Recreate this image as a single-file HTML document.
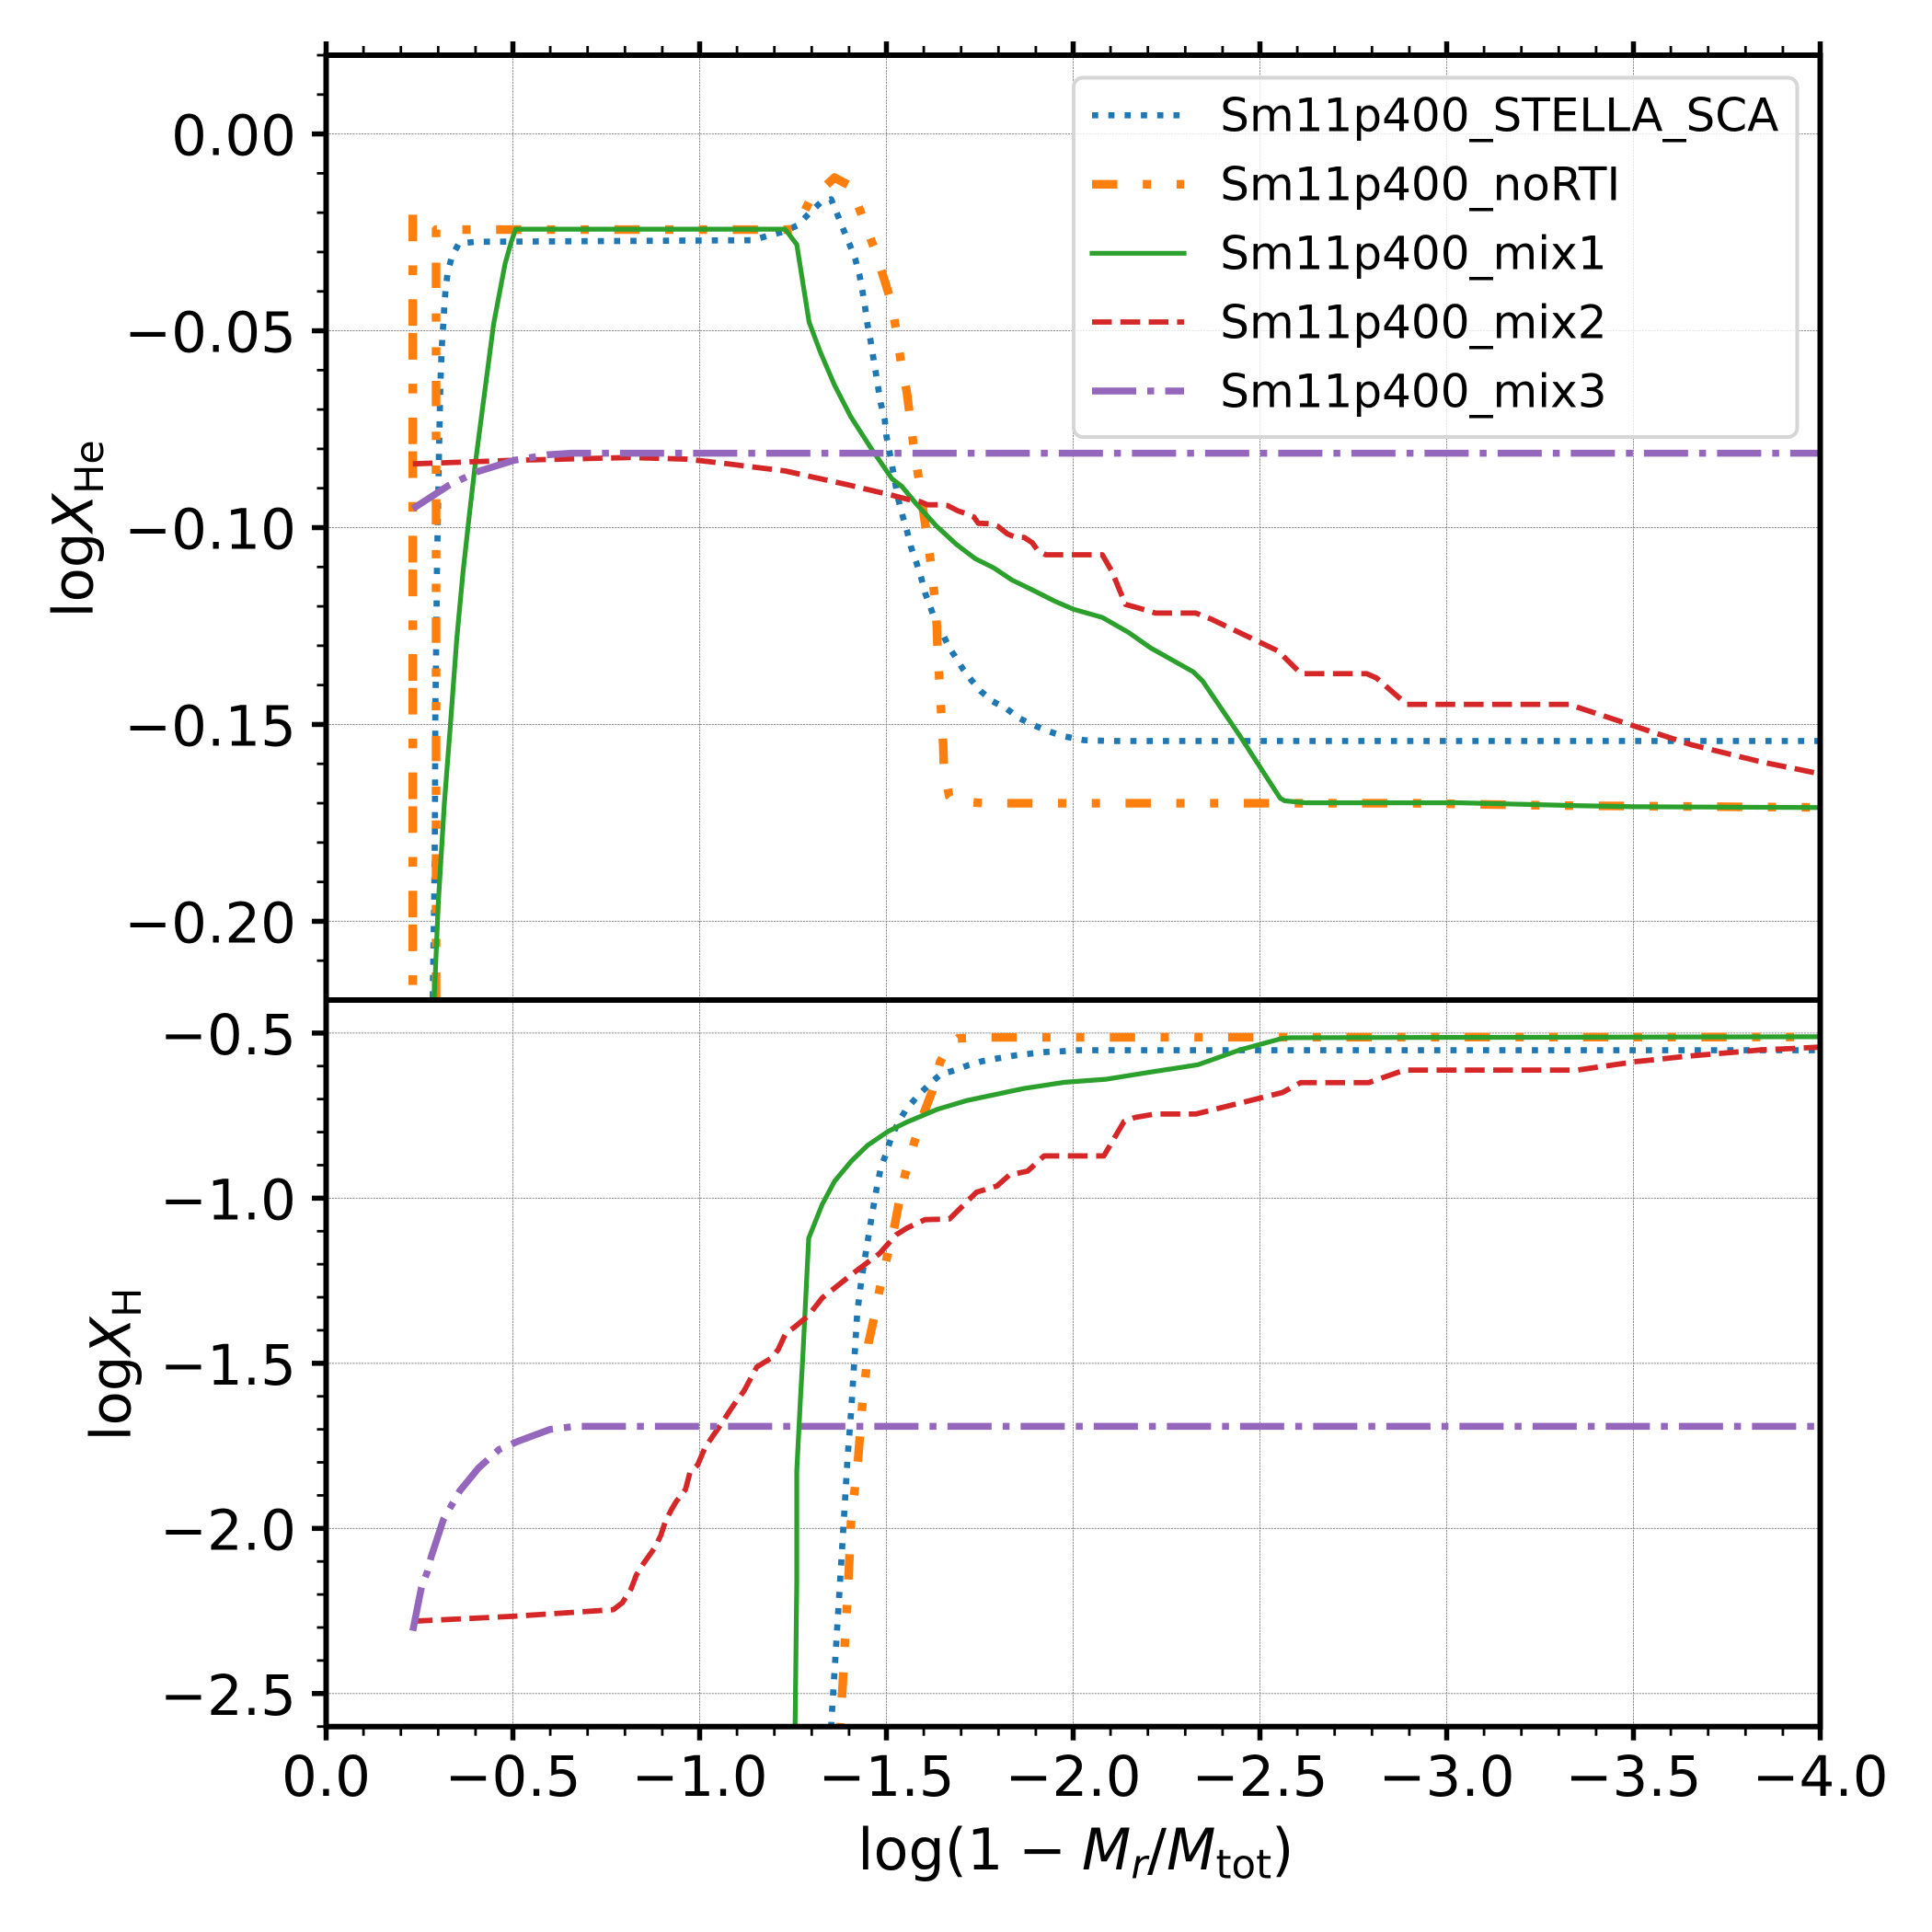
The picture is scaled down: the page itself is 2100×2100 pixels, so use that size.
<!DOCTYPE html>
<html lang="en">
<head>
<meta charset="utf-8">
<title>Helium and hydrogen abundance profiles</title>
<style>
  html, body { margin: 0; padding: 0; background: #fff; }
  svg { display: block; }
  text { font-family: "DejaVu Sans", "Liberation Sans", sans-serif; fill: #000; }
</style>
</head>
<body>
<svg id="chart" xmlns="http://www.w3.org/2000/svg" width="2100" height="2100" viewBox="0 0 2100 2100">
  <rect x="0" y="0" width="2100" height="2100" fill="#ffffff"/>
  <defs>
    <clipPath id="clip-upper"><rect x="354.5" y="60" width="1624" height="1027"/></clipPath>
    <clipPath id="clip-lower"><rect x="354.5" y="1087" width="1624" height="789.7"/></clipPath>
  </defs>
  <g id="grid"></g>
  <g id="lines-upper" clip-path="url(#clip-upper)"></g>
  <g id="lines-lower" clip-path="url(#clip-lower)"></g>
  <g id="ticks"></g>
  <g id="spines"></g>
  <g id="tick-labels"></g>

  <text transform="translate(100.5 671.5) rotate(-90)" font-size="61">log<tspan font-style="italic">X</tspan><tspan font-size="42.7" dy="11.5">He</tspan></text>
  <text transform="translate(141.5 1566.5) rotate(-90)" font-size="61">log<tspan font-style="italic">X</tspan><tspan font-size="42.7" dy="11.5">H</tspan></text>
  <text x="932.3" y="2032" font-size="62" word-spacing="-3">log(1 − <tspan font-style="italic">M</tspan><tspan font-style="italic" font-size="43.4" dy="9.5">r</tspan><tspan dy="-9.5">/</tspan><tspan font-style="italic">M</tspan><tspan font-size="43.4" dy="9.5">tot</tspan><tspan dy="-9.5">)</tspan></text>

  <g id="legend">
    <rect x="1167" y="84.5" width="786.5" height="390.5" rx="10" ry="10" fill="#ffffff" fill-opacity="0.8" stroke="#d6d6d6" stroke-width="4"/>
    <line x1="1187" x2="1287" y1="125.3" y2="125.3" stroke="#1f77b4" stroke-width="6.7" stroke-dasharray="6.7 11"/>
    <text x="1326.3" y="142.7" font-size="50">Sm11p400_STELLA_SCA</text>
    <line x1="1187" x2="1287" y1="200.3" y2="200.3" stroke="#ff7f0e" stroke-width="9.4" stroke-dasharray="27.5 27.7 9 27.7 9 27.7"/>
    <text x="1326.3" y="217.7" font-size="50">Sm11p400_noRTI</text>
    <line x1="1187" x2="1287" y1="275.3" y2="275.3" stroke="#2ca02c" stroke-width="5.2" stroke-linecap="square"/>
    <text x="1326.3" y="292.7" font-size="50">Sm11p400_mix1</text>
    <line x1="1187" x2="1287" y1="350" y2="350" stroke="#d62728" stroke-width="5.8" stroke-dasharray="21.5 9.3"/>
    <text x="1326.3" y="367.7" font-size="50">Sm11p400_mix2</text>
    <line x1="1187" x2="1287" y1="425" y2="425" stroke="#9467bd" stroke-width="7.5" stroke-dasharray="48 12 7.5 12"/>
    <text x="1326.3" y="442.7" font-size="50">Sm11p400_mix3</text>
  </g>
</svg>

<script>
// ---- tick values and labels ----
const xMajorTicks = [0, -0.5, -1, -1.5, -2, -2.5, -3, -3.5, -4];
const xTickLabels = ["0.0", "−0.5", "−1.0", "−1.5", "−2.0", "−2.5", "−3.0", "−3.5", "−4.0"];
const upperMajorTicks = [0, -0.05, -0.10, -0.15, -0.20];
const upperTickLabels = ["0.00", "−0.05", "−0.10", "−0.15", "−0.20"];
const lowerMajorTicks = [-0.5, -1, -1.5, -2, -2.5];
const lowerTickLabels = ["−0.5", "−1.0", "−1.5", "−2.0", "−2.5"];

// ---- Sm11p400_STELLA_SCA ----
const stellaUpperX = [-0.284,-0.2858,-0.2891,-0.2913,-0.2924,-0.2946,-0.2968,-0.3,-0.3022,-0.3057,-0.3089,-0.3111,-0.3143,-0.3165,-0.32,-0.3254,-0.3364,-0.3552,-0.4025,-1.141,-1.185,-1.226,-1.262,-1.293,-1.325,-1.352,-1.369,-1.385,-1.402,-1.417,-1.428,-1.436,-1.443,-1.449,-1.457,-1.464,-1.471,-1.478,-1.485,-1.4955,-1.4995,-1.508,-1.516,-1.524,-1.532,-1.543,-1.555,-1.565,-1.58,-1.593,-1.604,-1.619,-1.633,-1.653,-1.667,-1.687,-1.706,-1.728,-1.752,-1.784,-1.822,-1.855,-1.892,-1.933,-1.974,-2.03,-2.1,-4.05];
const stellaUpperY = [-0.24,-0.2167,-0.1962,-0.1755,-0.1466,-0.1301,-0.1094,-0.0929,-0.0805,-0.064,-0.0558,-0.0516,-0.0475,-0.0435,-0.0393,-0.0352,-0.0312,-0.0278,-0.0274,-0.027,-0.0258,-0.0248,-0.0232,-0.0202,-0.0173,-0.0166,-0.0205,-0.0243,-0.0282,-0.0319,-0.0359,-0.04,-0.0441,-0.0482,-0.0522,-0.0563,-0.0603,-0.0645,-0.0685,-0.0726,-0.0765,-0.0806,-0.0847,-0.0889,-0.0929,-0.0969,-0.1008,-0.1047,-0.1088,-0.1127,-0.1167,-0.1205,-0.1244,-0.1275,-0.1303,-0.1332,-0.1361,-0.1388,-0.1415,-0.1441,-0.146,-0.1484,-0.1501,-0.1517,-0.153,-0.154,-0.1542,-0.1542];
const stellaLowerX = [-1.34,-1.353,-1.383,-1.396,-1.406,-1.414,-1.422,-1.433,-1.447,-1.461,-1.476,-1.485,-1.5,-1.513,-1.532,-1.554,-1.582,-1.613,-1.644,-1.682,-1.72,-1.757,-1.801,-1.843,-1.887,-1.93,-1.973,-2.016,-4.05];
const stellaLowerY = [-2.9,-2.58,-2.03,-1.786,-1.639,-1.492,-1.345,-1.248,-1.15,-1.053,-0.9565,-0.909,-0.862,-0.816,-0.77,-0.729,-0.693,-0.657,-0.626,-0.613,-0.597,-0.585,-0.576,-0.568,-0.562,-0.557,-0.555,-0.552,-0.552];

// ---- Sm11p400_noRTI ----
const noRtiUpperX = [-0.232,-0.232,-0.232,-0.2943,-0.2943,-1.229,-1.257,-1.295,-1.361,-1.405,-1.436,-1.468,-1.493,-1.512,-1.526,-1.539,-1.555,-1.563,-1.573,-1.587,-1.598,-1.608,-1.619,-1.629,-1.635,-1.637,-1.642,-1.647,-1.652,-1.654,-1.668,-1.679,-1.762,-2.9,-3.3,-4.05];
const noRtiUpperY = [-0.2373,-0.0196,-0.2331,-0.2331,-0.0243,-0.0243,-0.0242,-0.0169,-0.0111,-0.0133,-0.0211,-0.0292,-0.0366,-0.0424,-0.0497,-0.058,-0.0658,-0.0719,-0.0794,-0.0878,-0.0954,-0.1016,-0.1091,-0.1176,-0.125,-0.1314,-0.139,-0.1476,-0.155,-0.1614,-0.1682,-0.1694,-0.17,-0.17,-0.1706,-0.1711];
const noRtiLowerX = [-1.362,-1.377,-1.383,-1.389,-1.394,-1.4,-1.405,-1.424,-1.429,-1.435,-1.445,-1.452,-1.466,-1.482,-1.502,-1.521,-1.533,-1.55,-1.575,-1.601,-1.623,-1.644,-1.669,-1.691,-1.757,-4.05];
const noRtiLowerY = [-2.87,-2.586,-2.471,-2.341,-2.241,-2.114,-1.984,-1.793,-1.719,-1.631,-1.527,-1.438,-1.367,-1.276,-1.176,-1.088,-1.017,-0.928,-0.829,-0.74,-0.675,-0.587,-0.536,-0.516,-0.513,-0.512];

// ---- Sm11p400_mix1 ----
const mix1UpperX = [-0.288,-0.2891,-0.3,-0.3165,-0.333,-0.3495,-0.366,-0.3825,-0.399,-0.41,-0.432,-0.4485,-0.479,-0.495,-0.507,-1.229,-1.26,-1.293,-1.323,-1.361,-1.405,-1.46,-1.515,-1.541,-1.582,-1.635,-1.688,-1.738,-1.787,-1.836,-1.886,-1.951,-2.0,-2.078,-2.148,-2.208,-2.321,-2.346,-2.447,-2.554,-2.566,-2.623,-3.038,-3.339,-3.502,-3.993,-4.05];
const mix1UpperY = [-0.24,-0.2205,-0.1957,-0.17,-0.1497,-0.1285,-0.1117,-0.0975,-0.084,-0.076,-0.0601,-0.0482,-0.033,-0.0276,-0.0242,-0.0242,-0.0281,-0.0478,-0.0554,-0.0638,-0.0719,-0.08,-0.0876,-0.0895,-0.0942,-0.0997,-0.1043,-0.1079,-0.1102,-0.1133,-0.1156,-0.1187,-0.1207,-0.1228,-0.1266,-0.1306,-0.1366,-0.1389,-0.153,-0.1687,-0.1694,-0.1699,-0.1699,-0.1706,-0.1709,-0.1711,-0.1711];
const mix1LowerX = [-1.254,-1.256,-1.26,-1.26,-1.27,-1.276,-1.283,-1.292,-1.328,-1.361,-1.405,-1.449,-1.504,-1.554,-1.636,-1.713,-1.867,-1.977,-2.087,-2.197,-2.334,-2.449,-2.56,-2.582,-4.05];
const mix1LowerY = [-2.7,-2.55,-2.16,-1.826,-1.603,-1.483,-1.325,-1.121,-1.019,-0.949,-0.889,-0.8405,-0.798,-0.77,-0.731,-0.705,-0.668,-0.649,-0.64,-0.62,-0.596,-0.55,-0.516,-0.514,-0.511];

// ---- Sm11p400_mix2 ----
const mix2UpperX = [-0.232,-0.5035,-0.811,-0.965,-1.075,-1.229,-1.405,-1.52,-1.565,-1.59,-1.61,-1.639,-1.664,-1.693,-1.709,-1.734,-1.746,-1.775,-1.799,-1.824,-1.844,-1.869,-1.89,-1.906,-1.927,-2.078,-2.103,-2.14,-2.193,-2.22,-2.328,-2.371,-2.548,-2.61,-2.786,-2.812,-2.893,-3.327,-3.502,-3.653,-3.842,-3.993,-4.05];
const mix2UpperY = [-0.0838,-0.0829,-0.0822,-0.0826,-0.0838,-0.0856,-0.0893,-0.0919,-0.093,-0.0934,-0.0942,-0.0942,-0.0944,-0.0958,-0.0963,-0.0973,-0.0989,-0.099,-0.0997,-0.1016,-0.1024,-0.1025,-0.1038,-0.1059,-0.1069,-0.1069,-0.111,-0.1195,-0.1209,-0.1217,-0.1217,-0.1233,-0.1313,-0.1371,-0.1371,-0.1382,-0.1449,-0.1449,-0.1504,-0.1551,-0.1595,-0.1624,-0.1634];
const mix2LowerX = [-0.232,-0.502,-0.769,-0.793,-0.816,-0.8305,-0.851,-0.88,-0.896,-0.908,-0.925,-0.937,-0.962,-0.974,-0.995,-1.014,-1.036,-1.056,-1.077,-1.099,-1.118,-1.138,-1.153,-1.192,-1.21,-1.23,-1.252,-1.29,-1.328,-1.416,-1.482,-1.526,-1.554,-1.603,-1.669,-1.741,-1.796,-1.829,-1.878,-1.922,-2.082,-2.136,-2.164,-2.219,-2.329,-2.56,-2.609,-2.791,-2.887,-3.351,-3.502,-3.641,-3.842,-3.993,-4.05];
const mix2LowerY = [-2.281,-2.266,-2.246,-2.225,-2.184,-2.141,-2.104,-2.058,-2.021,-1.979,-1.942,-1.919,-1.882,-1.831,-1.807,-1.756,-1.719,-1.687,-1.65,-1.613,-1.585,-1.543,-1.511,-1.484,-1.459,-1.41,-1.392,-1.357,-1.302,-1.223,-1.167,-1.111,-1.091,-1.065,-1.063,-0.982,-0.963,-0.93,-0.918,-0.872,-0.872,-0.768,-0.756,-0.745,-0.745,-0.68,-0.65,-0.65,-0.612,-0.612,-0.587,-0.5705,-0.551,-0.543,-0.541];

// ---- Sm11p400_mix3 ----
const mix3UpperX = [-0.232,-0.3276,-0.4045,-0.5035,-0.591,-0.657,-4.05];
const mix3UpperY = [-0.0952,-0.0893,-0.0858,-0.0829,-0.0815,-0.0811,-0.0811];
const mix3LowerX = [-0.232,-0.255,-0.27,-0.2815,-0.314,-0.358,-0.408,-0.463,-0.512,-0.6,-0.666,-4.05];
const mix3LowerY = [-2.31,-2.179,-2.134,-2.085,-1.973,-1.886,-1.817,-1.761,-1.737,-1.7,-1.691,-1.691];

// ---- axis functions ----
const NS = "http://www.w3.org/2000/svg";
function xPos(v) { return 354.5 + (0 - v) * (1978.5 - 354.5) / 4; }
function yUpper(v) { return 60 + (0.02 - v) * (1087 - 60) / 0.24; }
function yLower(v) { return 1087 + (-0.4 - v) * (1876.7 - 1087) / 2.2; }

function svgEl(tag, parentId) {
  const el = document.createElementNS(NS, tag);
  document.getElementById(parentId).appendChild(el);
  return el;
}
function setLine(el, x1, y1, x2, y2, color, width) {
  el.setAttribute("x1", x1);
  el.setAttribute("y1", y1);
  el.setAttribute("x2", x2);
  el.setAttribute("y2", y2);
  el.setAttribute("stroke", color);
  el.setAttribute("stroke-width", width);
}

// ---- grid ----
xMajorTicks.forEach(function (v) {
  [[60, 1087], [1087, 1876.7]].forEach(function (span) {
    const g = svgEl("line", "grid");
    
    
    setLine(g, xPos(v), span[0], xPos(v), span[1], "#8c8c8c", 1);
    g.setAttribute("stroke-dasharray", "2.2 1");
  });
});
upperMajorTicks.forEach(function (v) {
  const g = svgEl("line", "grid");
  
  
  setLine(g, 354.5, yUpper(v), 1978.5, yUpper(v), "#8c8c8c", 1);
  g.setAttribute("stroke-dasharray", "2.2 1");
});
lowerMajorTicks.forEach(function (v) {
  const g = svgEl("line", "grid");
  
  
  setLine(g, 354.5, yLower(v), 1978.5, yLower(v), "#8c8c8c", 1);
  g.setAttribute("stroke-dasharray", "2.2 1");
});

// ---- series ----
function drawSeries(parentId, xs, ys, yFn, color, width, dash, name) {
  const p = svgEl("path", parentId);
  
  
  let d = "";
  for (let i = 0; i < xs.length; i++) {
    d += (i === 0 ? "M" : "L") + xPos(xs[i]).toFixed(2) + " " + yFn(ys[i]).toFixed(2);
  }
  p.setAttribute("d", d);
  p.setAttribute("fill", "none");
  p.setAttribute("stroke", color);
  p.setAttribute("stroke-width", width);
  p.setAttribute("stroke-linejoin", "round");
  if (dash) p.setAttribute("stroke-dasharray", dash);
}
const dashStella = "6.7 11";
const dashNoRti = "27.5 27.7 9 27.7 9 27.7";
const dashMix2 = "21.5 9.3";
const dashMix3 = "48 12 7.5 12";

drawSeries("lines-upper", stellaUpperX, stellaUpperY, yUpper, "#1f77b4", 6.7, dashStella, "helium-line-stella-sca");
drawSeries("lines-upper", noRtiUpperX, noRtiUpperY, yUpper, "#ff7f0e", 9.4, dashNoRti, "helium-line-norti");
drawSeries("lines-upper", mix1UpperX, mix1UpperY, yUpper, "#2ca02c", 5.2, null, "helium-line-mix1");
drawSeries("lines-upper", mix2UpperX, mix2UpperY, yUpper, "#d62728", 5.8, dashMix2, "helium-line-mix2");
drawSeries("lines-upper", mix3UpperX, mix3UpperY, yUpper, "#9467bd", 7.5, dashMix3, "helium-line-mix3");

drawSeries("lines-lower", stellaLowerX, stellaLowerY, yLower, "#1f77b4", 6.7, dashStella, "hydrogen-line-stella-sca");
drawSeries("lines-lower", noRtiLowerX, noRtiLowerY, yLower, "#ff7f0e", 9.4, dashNoRti, "hydrogen-line-norti");
drawSeries("lines-lower", mix1LowerX, mix1LowerY, yLower, "#2ca02c", 5.2, null, "hydrogen-line-mix1");
drawSeries("lines-lower", mix2LowerX, mix2LowerY, yLower, "#d62728", 5.8, dashMix2, "hydrogen-line-mix2");
drawSeries("lines-lower", mix3LowerX, mix3LowerY, yLower, "#9467bd", 7.5, dashMix3, "hydrogen-line-mix3");

// ---- ticks ----
for (let i = 0; i <= 40; i++) {
  const v = -i / 10;
  const major = i % 5 === 0;
  const len = major ? 15 : 10;
  const w = major ? 5.5 : 2.8;
  const bottomTick = svgEl("line", "ticks");
  
  
  setLine(bottomTick, xPos(v), 1876.7, xPos(v), 1876.7 + len, "#000", w);
  const topTick = svgEl("line", "ticks");
  
  
  setLine(topTick, xPos(v), 60, xPos(v), 60 - len, "#000", w);
}
for (let i = 0; i <= 23; i++) {
  const v = 0.02 - i / 100;
  const major = (i - 2) % 5 === 0;
  const len = major ? 15.5 : 10;
  const w = major ? 5.5 : 2.8;
  const t = svgEl("line", "ticks");
  
  
  setLine(t, 354.5, yUpper(v), 354.5 - len, yUpper(v), "#000", w);
}
for (let i = 1; i <= 22; i++) {
  const v = -0.4 - i / 10;
  const major = (i - 1) % 5 === 0;
  const len = major ? 15.5 : 10;
  const w = major ? 5.5 : 2.8;
  const t = svgEl("line", "ticks");
  
  
  setLine(t, 354.5, yLower(v), 354.5 - len, yLower(v), "#000", w);
}

// ---- spines ----
[
  [354.5, 57, 354.5, 1879.7, "left-spine"],
  [1978.5, 57, 1978.5, 1879.7, "right-spine"],
  [351.5, 60, 1981.5, 60, "top-spine"],
  [351.5, 1087, 1981.5, 1087, "middle-spine"],
  [351.5, 1876.7, 1981.5, 1876.7, "bottom-spine"]
].forEach(function (s) {
  const el = svgEl("line", "spines");
  
  
  setLine(el, s[0], s[1], s[2], s[3], "#000", 6);
});

// ---- tick labels ----
xMajorTicks.forEach(function (v, i) {
  const t = svgEl("text", "tick-labels");
  
  
  t.setAttribute("x", xPos(v));
  t.setAttribute("y", 1952);
  t.setAttribute("font-size", "61");
  t.setAttribute("text-anchor", "middle");
  t.textContent = xTickLabels[i];
});
upperMajorTicks.forEach(function (v, i) {
  const t = svgEl("text", "tick-labels");
  
  
  t.setAttribute("x", 322);
  t.setAttribute("y", yUpper(v) + 23);
  t.setAttribute("font-size", "61");
  t.setAttribute("text-anchor", "end");
  t.textContent = upperTickLabels[i];
});
lowerMajorTicks.forEach(function (v, i) {
  const t = svgEl("text", "tick-labels");
  
  
  t.setAttribute("x", 322);
  t.setAttribute("y", yLower(v) + 23);
  t.setAttribute("font-size", "61");
  t.setAttribute("text-anchor", "end");
  t.textContent = lowerTickLabels[i];
});
</script>
</body>
</html>
